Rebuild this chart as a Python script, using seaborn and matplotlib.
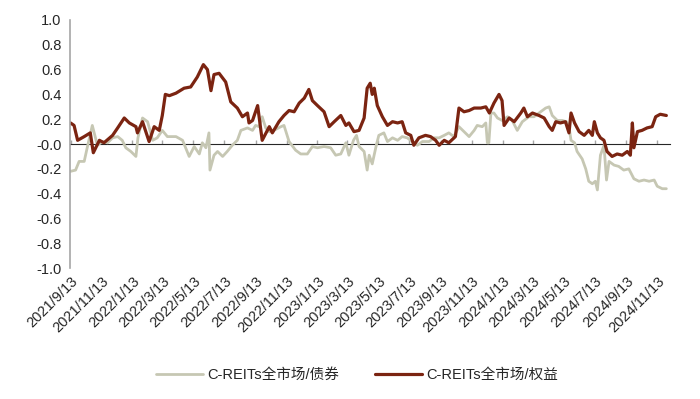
import pandas as pd
import numpy as np
import matplotlib
matplotlib.use("Agg")
import matplotlib.pyplot as plt
import seaborn as sns

# -----------------------------
# 0. DATA
# -----------------------------
start = pd.Timestamp("2021-09-13")

# days after 2021/9/13, rolling correlation C-REITs vs equity
equity_days = [0, 7, 14, 27, 39, 45, 57, 66, 83, 93, 106, 116, 129, 132, 142, 155, 165, 175,
               181, 187, 195, 208, 224, 237, 250, 262, 270, 277, 283, 293, 306, 316, 329, 339,
               349, 352, 359, 369, 378, 392, 398, 411, 421, 431, 441, 451, 461, 470, 477, 487,
               500, 510, 520, 533, 543, 549, 559, 569, 579, 585, 591, 595, 599, 605, 615, 625,
               635, 645, 654, 661, 671, 677, 687, 700, 710, 720, 727, 737, 746, 759, 766, 776,
               786, 796, 809, 819, 826, 835, 845, 851, 855, 865, 875, 888, 894, 901, 911, 924,
               934, 944, 950, 957, 966, 976, 983, 987, 994, 1003, 1013, 1022, 1029, 1033, 1039,
               1045, 1052, 1058, 1068, 1078, 1088, 1098, 1104, 1108, 1111, 1118, 1127, 1137,
               1147, 1154, 1163, 1175]
equity_vals = [0.17, 0.15, 0.03, 0.06, 0.09, -0.07, 0.03, 0.01, 0.07, 0.13, 0.21, 0.17, 0.14,
               0.09, 0.18, 0.02, 0.14, 0.11, 0.23, 0.40, 0.39, 0.41, 0.45, 0.46, 0.54, 0.64,
               0.60, 0.43, 0.56, 0.57, 0.50, 0.34, 0.29, 0.22, 0.25, 0.17, 0.19, 0.31, 0.03,
               0.14, 0.09, 0.18, 0.23, 0.27, 0.26, 0.33, 0.37, 0.44, 0.35, 0.31, 0.26, 0.14,
               0.18, 0.23, 0.15, 0.17, 0.10, 0.11, 0.21, 0.45, 0.49, 0.40, 0.45, 0.31, 0.22,
               0.15, 0.18, 0.17, 0.18, 0.09, 0.07, -0.01, 0.05, 0.07, 0.06, 0.03, -0.01, 0.03,
               0.01, 0.06, 0.29, 0.26, 0.27, 0.29, 0.29, 0.30, 0.25, 0.33, 0.40, 0.35, 0.15,
               0.21, 0.18, 0.25, 0.29, 0.22, 0.25, 0.23, 0.21, 0.14, 0.11, 0.18, 0.17, 0.18,
               0.09, 0.25, 0.17, 0.10, 0.07, 0.11, 0.07, 0.18, 0.09, 0.05, 0.03, -0.06, -0.10,
               -0.08, -0.09, -0.06, -0.09, 0.17, -0.03, 0.10, 0.11, 0.13, 0.14, 0.22, 0.24,
               0.23]

# days after 2021/9/13, rolling correlation C-REITs vs bonds
bond_days = [0, 10, 17, 27, 34, 43, 48, 53, 63, 73, 83, 93, 102, 109, 119, 129, 133, 142, 152,
             162, 171, 181, 191, 208, 221, 227, 234, 244, 254, 260, 267, 273, 275, 283, 290,
             300, 309, 319, 329, 336, 349, 359, 365, 372, 378, 385, 392, 401, 415, 421, 431,
             444, 454, 467, 477, 487, 500, 513, 523, 533, 543, 549, 558, 564, 569, 579, 585,
             589, 595, 603, 608, 618, 625, 635, 645, 654, 664, 674, 684, 694, 707, 717, 727,
             737, 746, 756, 766, 776, 786, 796, 802, 812, 819, 822, 825, 829, 835, 842, 851,
             862, 871, 881, 891, 904, 914, 924, 937, 944, 950, 960, 970, 978, 983, 987, 994,
             999, 1009, 1016, 1022, 1029, 1035, 1039, 1045, 1052, 1057, 1062, 1072, 1081,
             1091, 1101, 1111, 1121, 1131, 1141, 1151, 1157, 1167, 1175]
bond_vals = [-0.22, -0.21, -0.14, -0.14, -0.01, 0.15, 0.07, -0.01, 0.02, 0.01, 0.05, 0.06, 0.03,
             -0.03, -0.06, -0.10, 0.05, 0.21, 0.18, 0.03, 0.05, 0.11, 0.06, 0.06, 0.03, -0.03,
             -0.10, -0.02, -0.08, 0.01, -0.03, 0.09, -0.21, -0.09, -0.06, -0.10, -0.06, -0.01,
             0.03, 0.11, 0.13, 0.11, 0.15, 0.14, 0.22, 0.13, 0.10, 0.11, 0.14, 0.15, 0.02,
             -0.05, -0.08, -0.08, -0.02, -0.03, -0.02, -0.03, -0.09, -0.08, 0.01, -0.09, 0.03,
             0.07, -0.02, -0.06, -0.21, -0.09, -0.16, -0.01, 0.07, 0.09, 0.02, 0.05, 0.03,
             0.06, 0.05, 0.02, -0.01, 0.02, 0.02, 0.05, 0.05, 0.07, 0.09, 0.06, 0.14, 0.10,
             0.06, 0.11, 0.15, 0.14, 0.17, 0.01, 0.01, 0.25, 0.25, 0.21, 0.19, 0.22, 0.19,
             0.11, 0.18, 0.22, 0.22, 0.25, 0.29, 0.30, 0.23, 0.19, 0.19, 0.18, 0.14, 0.03,
             0.01, -0.06, -0.12, -0.20, -0.30, -0.32, -0.30, -0.37, -0.09, -0.01, -0.29,
             -0.14, -0.17, -0.18, -0.21, -0.20, -0.28, -0.30, -0.29, -0.30, -0.29, -0.34,
             -0.36, -0.36]

tick_labels = ["2021/9/13", "2021/11/13", "2022/1/13", "2022/3/13", "2022/5/13", "2022/7/13",
               "2022/9/13", "2022/11/13", "2023/1/13", "2023/3/13", "2023/5/13", "2023/7/13",
               "2023/9/13", "2023/11/13", "2024/1/13", "2024/3/13", "2024/5/13", "2024/7/13",
               "2024/9/13", "2024/11/13"]

bond_name = "C-REITs全市场/债券"
equity_name = "C-REITs全市场/权益"

# -----------------------------
# 1. BUILD FRAMES
# -----------------------------
bond = pd.DataFrame({"Date": start + pd.to_timedelta(bond_days, unit="D"), "Corr": bond_vals})
equity = pd.DataFrame({"Date": start + pd.to_timedelta(equity_days, unit="D"), "Corr": equity_vals})

# -----------------------------
# 2. PLOT
# -----------------------------
sns.set_style("white")
plt.rcParams["font.family"] = ["Liberation Sans", "Noto Sans CJK SC", "DejaVu Sans"]

fig = plt.figure(figsize=(7, 3.99), dpi=100)
ax = fig.add_axes([0.1, 0.328, 0.857, 0.622])

axis_grey = "#A6A6A6"

sns.lineplot(data=bond, x="Date", y="Corr", ax=ax, color="#C6C7B3", linewidth=2, label=bond_name)
sns.lineplot(data=equity, x="Date", y="Corr", ax=ax, color="#7B2411", linewidth=2.3, label=equity_name)

ax.set_ylim(-1.0, 1.0)
ax.set_yticks(np.arange(-1.0, 1.01, 0.2))
ax.set_yticklabels([f"{v:.1f}" for v in np.arange(-1.0, 1.01, 0.2)], fontsize=10.5)
ax.set_xlim(pd.Timestamp("2021-09-12"), pd.Timestamp("2024-12-08"))

tick_dates = pd.to_datetime(tick_labels, format="%Y/%m/%d")
ax.set_xticks(tick_dates)
ax.set_xticklabels(tick_labels, rotation=45, ha="right", rotation_mode="anchor", fontsize=10.5)
ax.tick_params(axis="x", length=0, pad=4)
ax.tick_params(axis="y", length=0, pad=6)
ax.set_xlabel("")
ax.set_ylabel("")

for side in ["top", "right", "bottom"]:
    ax.spines[side].set_visible(False)
ax.spines["left"].set_color(axis_grey)
ax.spines["left"].set_linewidth(1.2)

# zero line with small ticks (Excel style axis crossing at 0)
zero_axis = ax.secondary_xaxis(0.5)
zero_axis.set_xticks(tick_dates)
zero_axis.set_xticklabels([])
zero_axis.tick_params(axis="x", length=3, color=axis_grey, width=1)
zero_axis.spines["bottom"].set_color(axis_grey)
zero_axis.spines["bottom"].set_linewidth(1.2)
zero_axis.set_zorder(0)

ax.get_legend().remove()
handles, labels = ax.get_legend_handles_labels()
fig.legend(handles, labels, loc="lower center", bbox_to_anchor=(0.51, 0.01), ncol=2,
           frameon=False, fontsize=10.5, handlelength=3.2, columnspacing=2.5, handletextpad=0.3)

plt.savefig("out.png", dpi=100)
